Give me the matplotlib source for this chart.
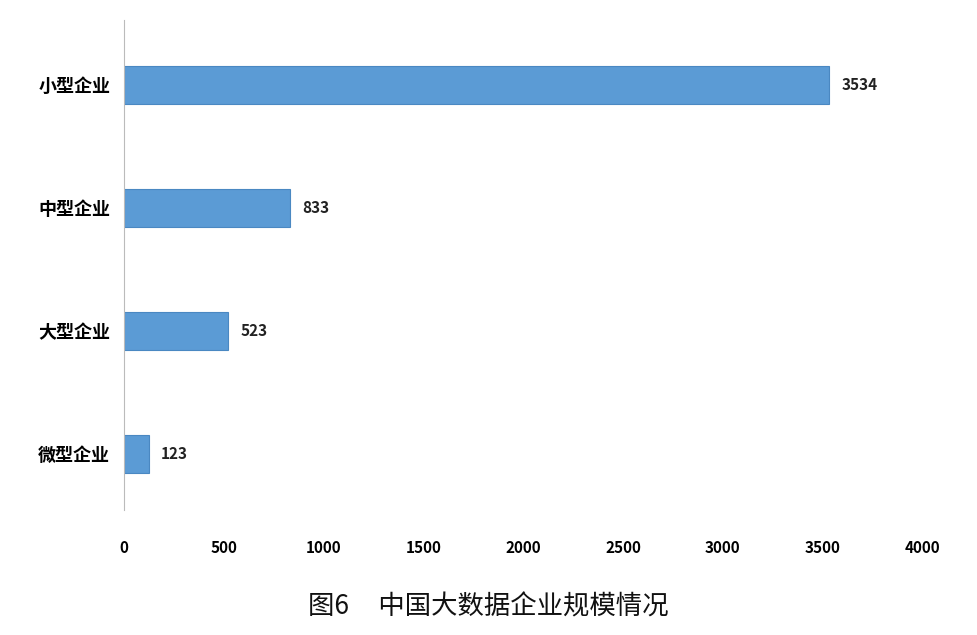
import matplotlib
matplotlib.use("Agg")
import matplotlib.pyplot as plt

plt.rcParams['font.family'] = ['Noto Sans CJK SC', 'DejaVu Sans']

categories = ['小型企业', '中型企业', '大型企业', '微型企业']
values = [3534, 833, 523, 123]
xticks = [0, 500, 1000, 1500, 2000, 2500, 3000, 3500, 4000]

fig = plt.figure(figsize=(9.77, 6.35), dpi=100)
ax = fig.add_axes([0.127, 0.197, 0.817, 0.772])
ypos = list(range(len(categories)))
ax.barh(ypos, values, height=0.31, color='#5B9BD5', edgecolor='#4A88C2', linewidth=0.8)
for y, v in zip(ypos, values):
    ax.text(v + 60, y, str(v), va='center', ha='left', fontsize=11, fontweight='bold', color='#222222')
ax.set_ylim(3.455, -0.53)
ax.set_xlim(0, 4000)
ax.set_yticks(ypos)
ax.set_yticklabels(categories, fontsize=13, fontweight='bold')
ax.set_xticks(xticks)
ax.set_xticklabels([str(t) for t in xticks], fontsize=11, fontweight='bold')
for s in ['top', 'right', 'bottom']:
    ax.spines[s].set_visible(False)
ax.spines['left'].set_color('#BBBBBB')
ax.tick_params(axis='both', length=0)
ax.tick_params(axis='x', pad=22)
ax.tick_params(axis='y', pad=10)
fig.text(0.5, 0.044, '图6     中国大数据企业规模情况', ha='center', va='center', fontsize=19, color='#111111')
fig.savefig('out.png', dpi=100, facecolor='white')
